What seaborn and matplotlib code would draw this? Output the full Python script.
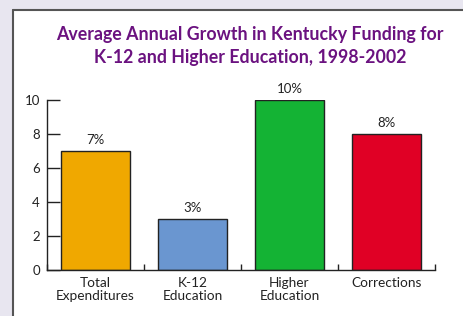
import matplotlib
matplotlib.use("Agg")
import matplotlib.pyplot as plt
import seaborn as sns
import pandas as pd
from matplotlib.patches import Rectangle
from matplotlib.lines import Line2D

categories = ["Total\nExpenditures", "K-12\nEducation", "Higher\nEducation", "Corrections"]
values = [7, 3, 10, 8]
value_labels = ["7%", "3%", "10%", "8%"]
colors = ["#F0A800", "#6A96D0", "#14B334", "#E00025"]
yticks = [0, 2, 4, 6, 8, 10]
title = "Average Annual Growth in Kentucky Funding for\nK-12 and Higher Education, 1998-2002"

sns.set_theme(style="white")
plt.rcParams["font.family"] = ["Lato", "DejaVu Sans"]

W, H = 463, 316
fig = plt.figure(figsize=(W / 100, H / 100), dpi=100, facecolor="#E8E6F0")

# white panel with dark border on left/top
fig.patches.append(Rectangle((13 / W, 0), 1, (H - 10) / H, transform=fig.transFigure,
                             facecolor="white", edgecolor="none", zorder=-10))
fig.lines.append(Line2D([13 / W, 13 / W], [0, (H - 10) / H], transform=fig.transFigure,
                        color="#555555", lw=1.5, zorder=-9))
fig.lines.append(Line2D([13 / W, 1], [(H - 10) / H, (H - 10) / H], transform=fig.transFigure,
                        color="#555555", lw=1.5, zorder=-9))

ax = fig.add_axes([47 / W, (H - 270) / H, (435 - 47) / W, 170 / H])
ax.set_facecolor("none")
ax.set_zorder(5)

df = pd.DataFrame({"cat": categories, "val": values})
sns.barplot(data=df, x="cat", y="val", hue="cat", palette=colors, legend=False,
            width=0.71, edgecolor="#222222", linewidth=1.0, ax=ax, saturation=1)

for i, (v, lab) in enumerate(zip(values, value_labels)):
    ax.text(i, v + 0.3, lab, ha="center", va="bottom", fontsize=9.5, color="#222222", clip_on=False)

ax.set_xlim(-0.5, 3.5)
ax.set_ylim(0, 10)
ax.set_yticks(yticks)
ax.set_xlabel("")
ax.set_ylabel("")
for s in ["top", "right"]:
    ax.spines[s].set_visible(False)
for s in ["left", "bottom"]:
    ax.spines[s].set_color("#222222")
    ax.spines[s].set_linewidth(1.0)

ax.tick_params(axis="y", direction="in", length=9, width=1, color="#222222",
               labelsize=9.5, labelcolor="#222222", pad=5, left=True)
ax.tick_params(axis="x", which="major", length=0, labelsize=9.8, labelcolor="#222222", pad=5)
ax.set_xticks([-0.5, 0.5, 1.5, 2.5, 3.5], minor=True)
ax.tick_params(axis="x", which="minor", direction="in", length=4, width=1, color="#222222", bottom=True)
for t in ax.get_xticklabels():
    t.set_linespacing(1.15)

fig.text(250 / W, 1 - 46 / H, title, ha="center", va="center", fontsize=12.8,
         fontweight="bold", color="#6B1280", linespacing=1.38)

fig.savefig("out.png", dpi=100, facecolor=fig.get_facecolor())
